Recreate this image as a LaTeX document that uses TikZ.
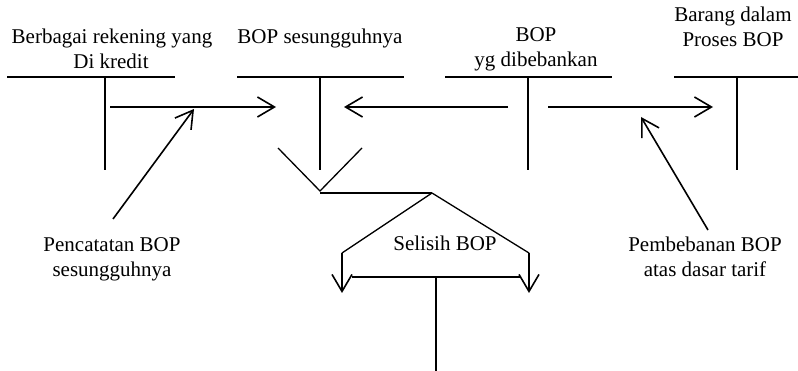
\documentclass[tikz,border=0pt]{standalone}
\usepackage{fontspec}
\setmainfont{Liberation Serif}
\usetikzlibrary{arrows.meta}
\begin{document}
\begin{tikzpicture}[x=1pt,y=-1pt,
  every node/.style={font=\fontsize{21}{25}\selectfont, inner sep=0pt, align=center},
  ln/.style={line width=1.6pt, line cap=butt},
  arr/.style={ln, -{Straight Barb[length=17pt,width=20pt,line width=1.6pt]}},
  thin/.style={line width=1.3pt}]
\useasboundingbox (0,0) rectangle (798,371);

% account titles
\node[anchor=base] (t1) at (112,44) {Berbagai rekening yang};
\node[anchor=base] (t1b) at (111,69) {Di kredit};
\node[anchor=base] (t2) at (320,44) {BOP sesungguhnya};
\node[anchor=base] (t3) at (536,42) {BOP};
\node[anchor=base] (t3b) at (536,67) {yg dibebankan};
\node[anchor=base] (t4) at (733,22) {Barang dalam};
\node[anchor=base] (t4b) at (733,47) {Proses BOP};

% T-accounts
\coordinate (a1l) at (7,77);   \coordinate (a1r) at (175,77);
\coordinate (a1t) at (105,77); \coordinate (a1b) at (105,170);
\coordinate (a2l) at (237,77); \coordinate (a2r) at (404,77);
\coordinate (a2t) at (320,77); \coordinate (a2b) at (320,170);
\coordinate (a3l) at (445,77); \coordinate (a3r) at (612,77);
\coordinate (a3t) at (528,77); \coordinate (a3b) at (528,170);
\coordinate (a4l) at (674,77); \coordinate (a4r) at (798,77);
\coordinate (a4t) at (737,77); \coordinate (a4b) at (737,170);
\foreach \k in {1,2,3,4} {
  \draw[ln] (a\k l) -- (a\k r);
  \draw[ln] (a\k t) -- (a\k b);
}

% transfer arrows
\coordinate (f1s) at (110,107); \coordinate (f1e) at (276,107);
\coordinate (f2s) at (508,107); \coordinate (f2e) at (344,107);
\coordinate (f3s) at (548,107); \coordinate (f3e) at (713,107);
\draw[arr] (f1s) -- (f1e);
\draw[arr] (f2s) -- (f2e);
\draw[arr] (f3s) -- (f3e);

% entry notes
\node[anchor=base] (n1) at (112,252) {Pencatatan BOP};
\node[anchor=base] (n1b) at (112,277) {sesungguhnya};
\node[anchor=base] (n2) at (705,252) {Pembebanan BOP};
\node[anchor=base] (n2b) at (705,277) {atas dasar tarif};
\coordinate (d1s) at (113,219); \coordinate (d1e) at (194,109);
\coordinate (d2s) at (708,230); \coordinate (d2e) at (641,117);
\draw[arr] (d1s) -- (d1e);
\draw[arr] (d2s) -- (d2e);

% closing of the balance
\coordinate (vl) at (278,148); \coordinate (vm) at (320,191); \coordinate (vr) at (362,148);
\coordinate (hj) at (432,193);
\draw[thin] (vl) -- (vm) -- (vr);
\draw[thin] (vm |- hj) -- (hj);

% variance split
\node[anchor=base] (sel) at (445,251) {Selisih BOP};
\coordinate (bl) at (342,253); \coordinate (blt) at (342,293);
\coordinate (br) at (529,253); \coordinate (brt) at (529,293);
\draw[thin] (hj) -- (bl);
\draw[thin] (hj) -- (br);
\draw[arr] (bl) -- (blt);
\draw[arr] (br) -- (brt);

% variance T-account
\coordinate (sl) at (352,277); \coordinate (sr) at (520,277);
\coordinate (st) at (436,277); \coordinate (sb) at (436,371);
\draw[ln] (sl) -- (sr);
\draw[ln] (st) -- (sb);
\end{tikzpicture}
\end{document}
